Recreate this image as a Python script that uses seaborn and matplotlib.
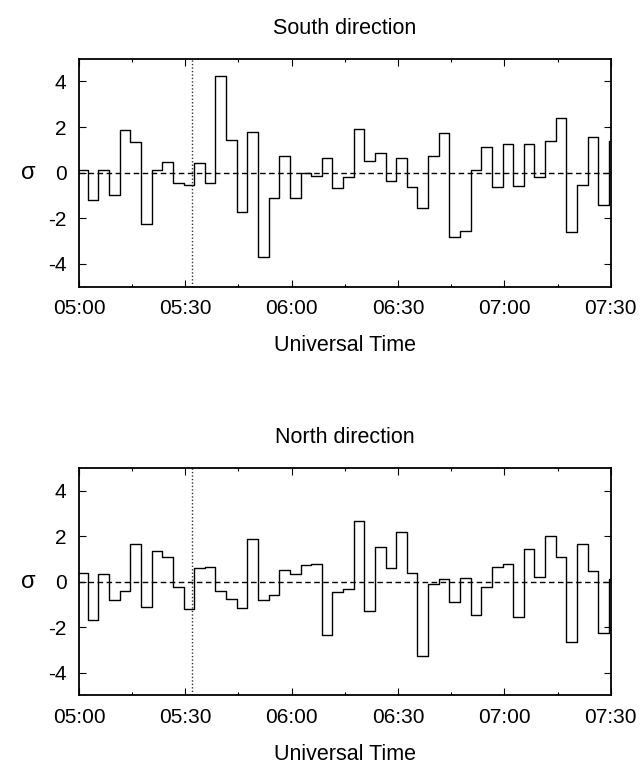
"""
Sigma time series for the south and north viewing directions
"""

import numpy as np
import pandas as pd
import matplotlib
matplotlib.use('Agg')
import matplotlib.pyplot as plt
import seaborn as sns

# bin centres, minutes after 05:00 (3-min bins)
minutes = np.arange(1, 152, 3)

south_sigma = [
    0.13, -1.19, 0.13, -1.00, 1.89, 1.33, -2.27, 0.10, 0.45, -0.44,
    -0.56, 0.44, -0.47, 4.25, 1.44, -1.71, 1.79, -3.68, -1.10, 0.72,
    -1.11, -0.01, -0.16, 0.62, -0.66, -0.19, 1.93, 0.50, 0.88, -0.35,
    0.62, -0.64, -1.55, 0.73, 1.74, -2.84, -2.56, 0.12, 1.11, -0.64,
    1.27, -0.59, 1.25, -0.21, 1.38, 2.39, -2.61, -0.53, 1.55, -1.41,
    1.38,
]

north_sigma = [
    0.37, -1.66, 0.32, -0.79, -0.42, 1.64, -1.13, 1.36, 1.08, -0.22,
    -1.20, 0.59, 0.67, -0.42, -0.76, -1.14, 1.86, -0.79, -0.57, 0.50,
    0.34, 0.75, 0.79, -2.34, -0.47, -0.34, 2.67, -1.30, 1.51, 0.60,
    2.18, 0.38, -3.25, -0.10, 0.12, -0.91, 0.16, -1.44, -0.21, 0.66,
    0.76, -1.55, 1.45, 0.19, 2.01, 1.07, -2.64, 1.66, 0.47, -2.27,
    0.10,
]

panel_titles = ['South direction', 'North direction']
tick_minutes = [0, 30, 60, 90, 120, 150]
tick_labels = ['05:00', '05:30', '06:00', '06:30', '07:00', '07:30']
minor_minutes = [15, 45, 75, 105, 135]
y_ticks = [-4, -2, 0, 2, 4]
marker_minute = 31.8  # dotted event line (~05:32)

sns.set_style('ticks')
plt.rcParams['font.family'] = ['Liberation Sans', 'DejaVu Sans']
plt.rcParams['font.size'] = 15
plt.rcParams['text.color'] = 'black'
plt.rcParams['axes.labelcolor'] = 'black'


def histeps_frame(values):
    """Bin edges + values so a steps-post line covers whole bins"""
    edges = np.append(minutes - 1.5, minutes[-1] + 1.5)
    vals = np.append(values, values[-1])
    return pd.DataFrame({'t': edges, 'sigma': vals})


def draw_panel(ax, values, title):
    df = histeps_frame(values)
    sns.lineplot(data=df, x='t', y='sigma', ax=ax, color='black',
                 linewidth=1.0, drawstyle='steps-post',
                 estimator=None, sort=False)
    ax.axhline(0, color='black', linestyle=(0, (4, 2.5)), linewidth=1.0)
    ax.axvline(marker_minute, color='#333333', linestyle=(0, (1, 1.5)),
               linewidth=1.0)

    ax.set_xlim(0, 150)
    ax.set_ylim(-5, 5)
    ax.set_xticks(tick_minutes)
    ax.set_xticklabels(tick_labels)
    ax.set_xticks(minor_minutes, minor=True)
    ax.set_yticks(y_ticks)
    ax.set_yticklabels([str(v) for v in y_ticks])

    ax.tick_params(which='both', direction='in', top=True, right=True,
                   width=0.8, labelsize=15, colors='black')
    ax.tick_params(which='major', length=5, pad=9)
    ax.tick_params(which='minor', length=2.5)
    for sp in ax.spines.values():
        sp.set_visible(True)
        sp.set_linewidth(1.3)
        sp.set_color('black')

    ax.set_title(title, fontsize=15.5, pad=18, color='black')
    ax.set_xlabel('Universal Time', fontsize=15.5, labelpad=12)
    ax.set_ylabel('σ', fontsize=17, labelpad=14, rotation=0, va='center')


fig = plt.figure(figsize=(6.41, 7.69), dpi=100)
ax_top = fig.add_axes([0.1232, 0.6272, 0.8295, 0.2966])
ax_bot = fig.add_axes([0.1232, 0.0956, 0.8295, 0.2958])

draw_panel(ax_top, south_sigma, panel_titles[0])
draw_panel(ax_bot, north_sigma, panel_titles[1])

fig.savefig('out.png', dpi=100)
plt.close(fig)
